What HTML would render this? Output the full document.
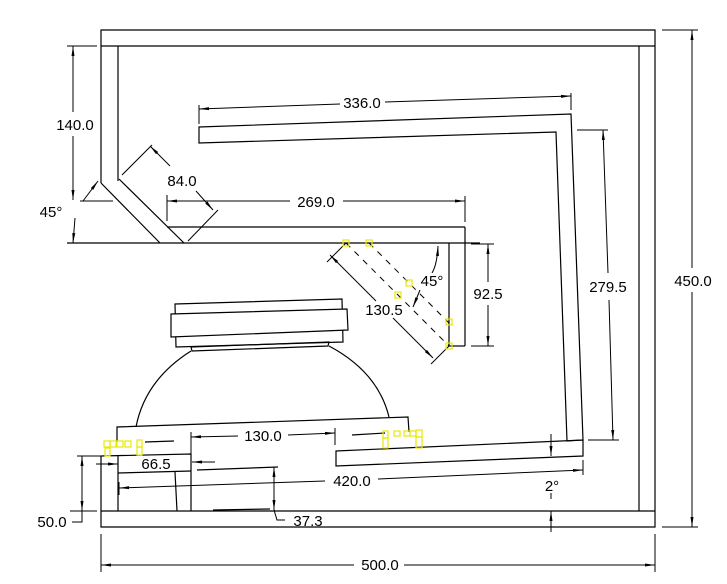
<!DOCTYPE html>
<html><head><meta charset="utf-8"><style>
html,body{margin:0;padding:0;background:#fff}
svg{display:block}
text{font-family:"Liberation Sans",sans-serif;font-size:15px;fill:#000}
</style></head><body>
<svg width="727" height="584" viewBox="0 0 727 584" xmlns="http://www.w3.org/2000/svg">
<defs>
<marker id="a" viewBox="0 0 10 4" refX="10" refY="2" markerWidth="10" markerHeight="4" orient="auto" markerUnits="userSpaceOnUse"><path d="M0,0.5 L10,2 L0,3.5Z" fill="#000"/></marker>
<marker id="b" viewBox="0 0 10 4" refX="0" refY="2" markerWidth="10" markerHeight="4" orient="auto" markerUnits="userSpaceOnUse"><path d="M10,0.5 L0,2 L10,3.5Z" fill="#000"/></marker>
</defs>
<g fill="none" stroke="#000" stroke-width="1.2">
<!-- frame -->
<polyline points="101,183 101,30 655,30 655,527 101,527 101,456"/>
<line x1="101" y1="46" x2="655" y2="46"/>
<line x1="639" y1="46" x2="639" y2="511"/>
<line x1="101" y1="511" x2="655" y2="511"/>
<!-- left wall & diagonal -->
<polyline points="118,46 118,181"/>
<polyline points="101,183 160,243"/>
<polyline points="119,179 184,243"/>
<line x1="167" y1="227" x2="465" y2="227"/>
<line x1="67" y1="243" x2="480" y2="243"/>
<line x1="465" y1="227" x2="465" y2="346"/>
<line x1="449" y1="243" x2="449" y2="346"/>
<line x1="449" y1="346" x2="465" y2="346"/>
<!-- upper slanted bar and right vertical bar -->
<polygon points="199,127 571,114 583,440 567,441 556,132 199,143"/>
<!-- lower slanted bar -->
<polygon points="336,451 583,440 583,456 336,466"/>
<!-- speaker -->
<polygon points="175,304 342,299 343,342 176,347"/>
<polygon points="171,314 347,309 348,330 171,337" fill="#fff"/>
<polygon points="191,347 329,342 328,346 192,351"/>
<path d="M191,351 Q145,380 136,427"/>
<path d="M329,346 Q378,372 389,417"/>
<polyline points="117,442 117,427 408,417 409,432"/>
<line x1="352" y1="435" x2="385" y2="433"/>
<line x1="145" y1="442" x2="174" y2="441"/>
<!-- lower-left block -->
<polyline points="101,456 191,454 191,511"/>
<line x1="118" y1="456" x2="118" y2="511"/>
<line x1="118" y1="473" x2="191" y2="471"/>
<line x1="175" y1="472" x2="177" y2="511"/>
<line x1="197" y1="470" x2="278" y2="467"/>
<line x1="213" y1="510" x2="270" y2="509"/>
</g>
<g fill="none" stroke="#000" stroke-width="1">
<line x1="346" y1="243" x2="449" y2="346" stroke-dasharray="6,6"/>
<line x1="369" y1="243" x2="449" y2="323" stroke-dasharray="6,6"/>
<!-- 130.5 -->
<line x1="330" y1="255" x2="376" y2="301" marker-start="url(#b)"/>
<line x1="393" y1="318" x2="433" y2="358" marker-end="url(#a)"/>
<line x1="327" y1="262" x2="346" y2="243"/><line x1="431" y1="364" x2="449" y2="346"/>
<!-- 45 lower -->
<path d="M438,246 Q437,265 432,273" marker-start="url(#b)"/>
<line x1="420" y1="290" x2="413" y2="307" marker-end="url(#a)"/>
<!-- 92.5 -->
<line x1="471" y1="244" x2="494" y2="244"/><line x1="471" y1="346" x2="494" y2="346"/>
<line x1="488" y1="244" x2="488" y2="282" marker-start="url(#b)"/>
<line x1="488" y1="305" x2="488" y2="346" marker-end="url(#a)"/>
<!-- 336 -->
<line x1="199" y1="105" x2="199" y2="124"/><line x1="571" y1="93" x2="571" y2="110"/>
<line x1="199" y1="109" x2="340" y2="104" marker-start="url(#b)"/>
<line x1="385" y1="102" x2="571" y2="96" marker-end="url(#a)"/>
<!-- 279.5 -->
<line x1="577" y1="130" x2="608" y2="130"/><line x1="588" y1="440" x2="619" y2="440"/>
<line x1="603" y1="130" x2="608" y2="273" marker-start="url(#b)"/>
<line x1="609" y1="300" x2="613" y2="440" marker-end="url(#a)"/>
<!-- 450 -->
<line x1="662" y1="30" x2="698" y2="30"/><line x1="662" y1="527" x2="698" y2="527"/>
<line x1="692" y1="30" x2="692" y2="268" marker-start="url(#b)"/>
<line x1="692" y1="292" x2="692" y2="527" marker-end="url(#a)"/>
<!-- 500 -->
<line x1="101" y1="534" x2="101" y2="572"/><line x1="655" y1="534" x2="655" y2="572"/>
<line x1="101" y1="565" x2="354" y2="565" marker-start="url(#b)"/>
<line x1="404" y1="565" x2="655" y2="565" marker-end="url(#a)"/>
<!-- 140 -->
<line x1="67" y1="46" x2="97" y2="46"/>
<line x1="73" y1="46" x2="73" y2="112" marker-start="url(#b)"/>
<line x1="73" y1="136" x2="73" y2="200" marker-end="url(#a)"/>
<!-- 45 upper -->
<line x1="83" y1="201" x2="98" y2="181" marker-end="url(#a)"/>
<line x1="75" y1="218" x2="73" y2="243" marker-end="url(#a)"/>
<line x1="80" y1="201" x2="113" y2="201"/>
<!-- 84 -->
<line x1="122" y1="175" x2="152" y2="145"/><line x1="188" y1="241" x2="218" y2="210"/>
<line x1="150" y1="146" x2="170" y2="166" marker-start="url(#b)"/>
<line x1="196" y1="191" x2="213" y2="210" marker-end="url(#a)"/>
<!-- 269 -->
<line x1="167" y1="195" x2="167" y2="221"/><line x1="465" y1="196" x2="465" y2="222"/>
<line x1="167" y1="201" x2="290" y2="201" marker-start="url(#b)"/>
<line x1="343" y1="201" x2="465" y2="201" marker-end="url(#a)"/>
<!-- 130 -->
<line x1="191" y1="432" x2="191" y2="455"/><line x1="335" y1="428" x2="335" y2="445"/>
<line x1="191" y1="437" x2="238" y2="436" marker-start="url(#b)"/>
<line x1="288" y1="435" x2="335" y2="433" marker-end="url(#a)"/>
<!-- 66.5 -->
<line x1="96" y1="464" x2="118" y2="464" marker-end="url(#a)"/>
<line x1="215" y1="462" x2="192" y2="462" marker-end="url(#a)"/>
<!-- 420 -->
<line x1="119" y1="482" x2="119" y2="495"/><line x1="583" y1="460" x2="583" y2="475"/>
<line x1="119" y1="488" x2="325" y2="481" marker-start="url(#b)"/>
<line x1="378" y1="479" x2="583" y2="470" marker-end="url(#a)"/>
<!-- 37.3 -->
<line x1="274" y1="467" x2="274" y2="490" marker-start="url(#b)"/>
<line x1="274" y1="490" x2="274" y2="510" marker-end="url(#a)"/>
<polyline points="274,510 277,520 285,520"/>
<!-- 50 -->
<line x1="77" y1="456" x2="101" y2="456"/><line x1="70" y1="511" x2="97" y2="511"/>
<line x1="82" y1="456" x2="82" y2="480" marker-start="url(#b)"/>
<line x1="82" y1="480" x2="82" y2="511" marker-end="url(#a)"/>
<polyline points="82,511 82,522 72,522"/>
<!-- 2 deg -->
<line x1="551" y1="434" x2="551" y2="456" marker-end="url(#a)"/>
<line x1="551" y1="532" x2="551" y2="511" marker-end="url(#a)"/>
<line x1="551" y1="493" x2="551" y2="499"/>
</g>
<g fill="none" stroke="#e8e800" stroke-width="1.2">
<rect x="343" y="240" width="6" height="6"/><rect x="366" y="240" width="6" height="6"/>
<rect x="406" y="280" width="6" height="6"/><rect x="395" y="292" width="6" height="6"/>
<rect x="446" y="319" width="6" height="6"/><rect x="446" y="343" width="6" height="6"/>
<rect x="104" y="441" width="6" height="6"/><rect x="110" y="441" width="6" height="6"/>
<rect x="117" y="441" width="6" height="6"/><rect x="125" y="441" width="6" height="6"/>
<rect x="105" y="448" width="5" height="8"/><rect x="137" y="440" width="5" height="7"/>
<rect x="137" y="447" width="5" height="8"/>
<rect x="383" y="431" width="5" height="7"/><rect x="383" y="438" width="5" height="10"/>
<rect x="394" y="431" width="6" height="5"/><rect x="404" y="431" width="6" height="5"/>
<rect x="410" y="431" width="6" height="5"/><rect x="416" y="430" width="6" height="7"/>
<rect x="416" y="437" width="6" height="11"/>
</g>
<g>
<text x="362" y="108" text-anchor="middle">336.0</text>
<text x="316" y="207" text-anchor="middle">269.0</text>
<text x="182" y="186" text-anchor="middle">84.0</text>
<text x="75" y="130" text-anchor="middle" style="paint-order:stroke" stroke="#fff" stroke-width="4">140.0</text>
<text x="51" y="217" text-anchor="middle">45°</text>
<text x="432" y="286" text-anchor="middle">45°</text>
<text x="384" y="315" text-anchor="middle">130.5</text>
<text x="488" y="299" text-anchor="middle">92.5</text>
<text x="608" y="292" text-anchor="middle">279.5</text>
<text x="693" y="286" text-anchor="middle" style="paint-order:stroke" stroke="#fff" stroke-width="4">450.0</text>
<text x="380" y="570" text-anchor="middle">500.0</text>
<text x="263" y="441" text-anchor="middle">130.0</text>
<text x="156" y="469" text-anchor="middle">66.5</text>
<text x="352" y="486" text-anchor="middle">420.0</text>
<text x="308" y="526" text-anchor="middle">37.3</text>
<text x="52" y="527" text-anchor="middle">50.0</text>
<text x="552" y="491" text-anchor="middle">2°</text>
</g>
</svg>
</body></html>
